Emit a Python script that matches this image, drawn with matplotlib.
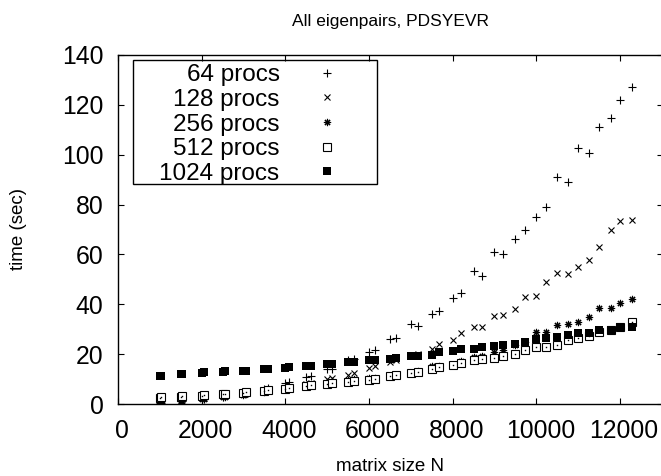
import matplotlib
matplotlib.use("Agg")
import matplotlib.pyplot as plt
from matplotlib.patches import Rectangle
from matplotlib.transforms import ScaledTranslation

plt.rcParams['font.family'] = ['Liberation Sans', 'DejaVu Sans']

# matrix sizes (multiples of 500 and of 512)
N = [1000, 1024, 1500, 1536, 2000, 2048, 2500, 2560, 3000, 3072,
     3500, 3584, 4000, 4096, 4500, 4608, 5000, 5120, 5500, 5632,
     6000, 6144, 6500, 6656, 7000, 7168, 7500, 7680, 8000, 8192,
     8500, 8704, 9000, 9216, 9500, 9728, 10000, 10240, 10500, 10752,
     11000, 11264, 11500, 11776, 12000, 12288]

t64 = [0.5, 0.6, 1.2, 1.3, 2.0, 2.1, 3.0, 3.2, 4.3, 4.5,
       6.0, 6.3, 8.5, 8.8, 11.0, 11.2, 14.0, 14.2, 17.5, 18.0,
       20.9, 21.6, 26.2, 26.4, 32.2, 31.2, 36.1, 37.5, 42.5, 44.5,
       53.4, 51.5, 60.8, 60.2, 66.2, 69.6, 74.9, 79.0, 91.0, 88.9,
       102.6, 100.5, 111.0, 114.7, 121.9, 127.1]

t128 = [1.0, 1.1, 1.8, 1.9, 2.5, 2.6, 3.3, 3.4, 4.2, 4.3,
        5.2, 5.4, 6.5, 6.8, 8.0, 8.3, 10.0, 10.5, 11.8, 12.3,
        14.3, 15.1, 16.8, 17.5, 19.3, 20.0, 22.1, 24.2, 25.5, 28.5,
        30.9, 30.9, 35.4, 35.8, 38.0, 43.1, 43.5, 48.9, 52.5, 52.1,
        54.9, 57.8, 62.9, 69.8, 73.5, 73.8]

t256 = [0.8, 0.9, 1.3, 1.4, 2.0, 2.1, 2.8, 3.0, 3.8, 4.0,
        5.0, 5.2, 6.3, 6.5, 7.2, 7.6, 8.5, 8.8, 9.5, 9.9,
        10.3, 10.6, 11.4, 11.8, 12.5, 13.1, 15.1, 15.1, 15.8, 17.1,
        18.9, 19.4, 21.0, 21.8, 23.5, 25.0, 28.7, 28.7, 31.8, 32.1,
        33.0, 34.8, 38.5, 38.5, 40.7, 42.2]

t512 = [2.6, 2.7, 3.0, 3.1, 3.4, 3.5, 4.0, 4.2, 4.6, 4.8,
        5.4, 5.6, 6.2, 6.5, 7.4, 7.7, 7.9, 8.3, 9.0, 9.4,
        9.8, 10.2, 11.1, 11.5, 12.5, 12.9, 14.2, 14.9, 15.5, 16.5,
        17.5, 18.1, 18.5, 19.4, 20.1, 21.8, 22.7, 22.9, 23.8, 25.8,
        26.3, 27.1, 29.0, 29.6, 30.7, 32.8]

t1024 = [11.1, 11.2, 12.0, 12.1, 12.6, 12.7, 13.0, 13.1, 13.3, 13.4,
         13.9, 14.0, 14.6, 14.8, 15.1, 15.3, 16.0, 16.2, 16.7, 17.0,
         17.5, 17.8, 18.1, 18.5, 19.1, 19.1, 19.8, 21.0, 21.1, 22.0,
         22.1, 23.0, 23.1, 23.5, 24.2, 25.0, 26.1, 26.3, 26.7, 27.5,
         28.5, 28.3, 29.5, 29.8, 30.9, 31.0]

labels = ['64 procs', '128 procs', '256 procs', '512 procs', '1024 procs']

fig = plt.figure(figsize=(6.61, 4.76), dpi=100)
ax = fig.add_axes([118/661, 72/476, 545/661, 349/476])

lw = 0.8
ax.plot(N, t64, ls='none', marker='+', ms=5.8, mew=lw, color='black', label=labels[0])
ax.plot(N, t128, ls='none', marker='x', ms=4.8, mew=lw, color='black', label=labels[1])
ax.plot(N, t256, ls='none', marker=(8, 2, 0), ms=5.2, mew=lw, color='black', label=labels[2])
ax.plot(N, t512, ls='none', marker='s', ms=5.6, mew=lw, mfc='white', mec='black', label=labels[3])
ax.plot(N, t512, ls='none', marker='s', ms=1.0, mew=0, color='black')
ax.plot(N, t1024, ls='none', marker='s', ms=6.0, mew=0, color='black', label=labels[4])

ax.set_xlim(0, 13030)
ax.set_ylim(0, 140)
ax.set_xticks([0, 2000, 4000, 6000, 8000, 10000, 12000])
ax.set_yticks([0, 20, 40, 60, 80, 100, 120, 140])
ax.tick_params(direction='in', length=4.5, width=0.8, top=True, right=True,
               labelsize=17.8)
ax.tick_params(axis='y', pad=10.5)
ax.tick_params(axis='x', pad=10.5)
off = ScaledTranslation(4/100, 0, fig.dpi_scale_trans)
for lab in ax.get_xticklabels():
    lab.set_transform(lab.get_transform() + off)
for s in ax.spines.values():
    s.set_linewidth(1.0)

ax.set_title('All eigenpairs, PDSYEVR', fontsize=12.5, pad=21)
ax.set_xlabel('matrix size N', fontsize=13.5, labelpad=11)
ax.set_ylabel('time (sec)', fontsize=13.5, labelpad=25)

# legend frame
x0, x1 = (133-118)/545, (377-118)/545
y0, y1 = (404-184)/349, (404-60)/349
ax.add_patch(Rectangle((x0, y0), x1-x0, y1-y0, transform=ax.transAxes,
                       fill=False, ec='black', lw=1.0, zorder=5))
ax.legend(loc='upper right', bbox_to_anchor=(x1, y1), bbox_transform=ax.transAxes,
          frameon=False, markerfirst=False, fontsize=17.5, borderaxespad=0,
          borderpad=0.17, handlelength=3.74, handletextpad=0.1, labelspacing=0.11)

fig.savefig('out.png', dpi=100)
